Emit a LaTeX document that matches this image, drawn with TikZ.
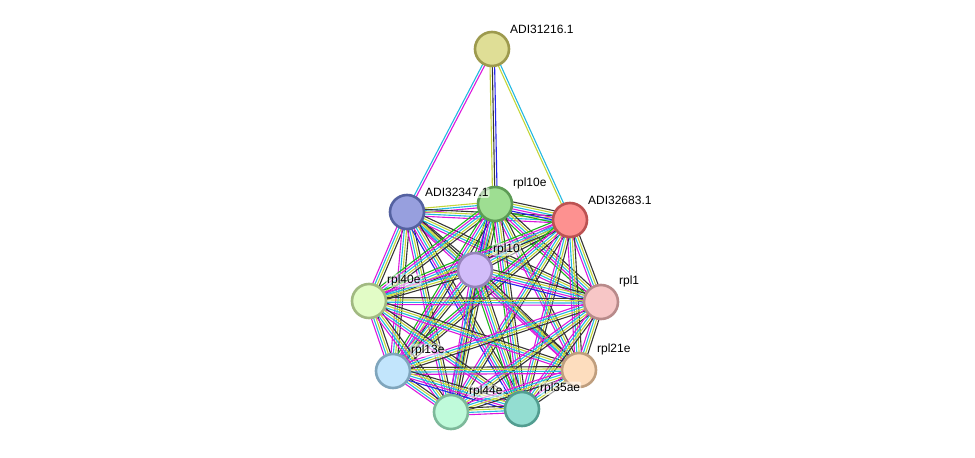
\documentclass[tikz,border=0pt]{standalone}
\usepackage{fontspec}
\setmainfont{Liberation Sans}
\usetikzlibrary{calc,backgrounds}

% evidence channels
\definecolor{nbh}{RGB}{30,180,30}
\definecolor{cooc}{RGB}{35,35,235}
\definecolor{exp}{RGB}{220,25,220}
\definecolor{db}{RGB}{35,185,225}
\definecolor{txt}{RGB}{196,214,58}
\definecolor{coex}{RGB}{55,55,55}

% one line per channel, side by side
\newcommand\link[3]{%
  \foreach \c [count=\k] in {#3} {\global\let\nl\k}%
  \foreach \c [count=\k] in {#3} {%
    \pgfmathsetmacro\off{(\k-(\nl+1)/2)*2.3}%
    \draw[\c,line width=1.1pt] ($(#1)!\off pt!90:(#2)$) -- ($(#2)!\off pt!-90:(#1)$);
  }%
}

\begin{document}
\begin{tikzpicture}[x=1pt,y=-1pt,prot/.style={shape=circle,minimum size=34,inner sep=0,line width=2.6pt},lbl/.style={font=\fontsize{12}{14}\selectfont,inner sep=1pt,xshift=4,yshift=1,fill=white,fill opacity=0.55,text opacity=1,rounded corners=2pt}]
\useasboundingbox (0,0) rectangle (975,458);

\node[prot,fill={rgb,255:red,223;green,222;blue,150},draw={rgb,255:red,157;green,154;blue,78},label={[lbl]above right:ADI31216.1}] (a1216) at (492,49) {};
\node[prot,fill={rgb,255:red,158;green,222;blue,146},draw={rgb,255:red,93;green,155;blue,85},label={[lbl]above right:rpl10e}] (rpl10e) at (495,204) {};
% after rpl10e, so its label lies on top
\node[prot,fill={rgb,255:red,151;green,159;blue,222},draw={rgb,255:red,84;green,97;blue,160},label={[lbl]above right:ADI32347.1}] (a2347) at (407,212) {};
\node[prot,fill={rgb,255:red,253;green,145;blue,144},draw={rgb,255:red,188;green,82;blue,82},label={[lbl]above right:ADI32683.1}] (a2683) at (570,220) {};
\node[prot,fill={rgb,255:red,209;green,188;blue,249},draw={rgb,255:red,150;green,131;blue,186},label={[lbl]above right:rpl10}] (rpl10) at (475,270) {};
\node[prot,fill={rgb,255:red,226;green,252;blue,198},draw={rgb,255:red,161;green,185;blue,129},label={[lbl]above right:rpl40e}] (rpl40e) at (369,301) {};
\node[prot,fill={rgb,255:red,247;green,198;blue,198},draw={rgb,255:red,184;green,138;blue,138},label={[lbl]above right:rpl1}] (rpl1) at (601,302) {};
\node[prot,fill={rgb,255:red,194;green,229;blue,252},draw={rgb,255:red,127;green,165;blue,188},label={[lbl]above right:rpl13e}] (rpl13e) at (393,371) {};
\node[prot,fill={rgb,255:red,253;green,221;blue,190},draw={rgb,255:red,191;green,158;blue,126},label={[lbl]above right:rpl21e}] (rpl21e) at (579,370) {};
\node[prot,fill={rgb,255:red,191;green,250;blue,218},draw={rgb,255:red,125;green,185;blue,154},label={[lbl]above right:rpl44e}] (rpl44e) at (451,412) {};
\node[prot,fill={rgb,255:red,147;green,221;blue,209},draw={rgb,255:red,82;green,157;blue,144},label={[lbl]above right:rpl35ae}] (rpl35ae) at (522,409) {};

\begin{pgfonlayer}{background}
% top protein
\link{a1216}{a2347}{db,exp}
\link{a1216}{rpl10e}{txt,coex,cooc}
\link{a1216}{a2683}{txt,db}
% ribosomal cluster
\link{a2347}{rpl10e}{exp,db,txt}
\link{a2347}{a2683}{exp,db,txt,coex}
\link{a2347}{rpl10}{exp,db,txt,coex}
\link{a2347}{rpl40e}{exp,db,txt,coex}
\link{a2347}{rpl1}{exp,db,txt,coex}
\link{a2347}{rpl13e}{exp,db,txt,coex}
\link{a2347}{rpl21e}{exp,db,txt,coex}
\link{a2347}{rpl44e}{exp,db,txt,coex}
\link{a2347}{rpl35ae}{cooc,exp,db,txt,coex}
\link{rpl10e}{a2683}{nbh,cooc,exp,db,txt,coex}
\link{rpl10e}{rpl10}{nbh,exp,db,txt,coex}
\link{rpl10e}{rpl40e}{nbh,exp,db,txt,coex}
\link{rpl10e}{rpl1}{nbh,exp,db,txt,coex}
\link{rpl10e}{rpl13e}{nbh,exp,db,txt,coex}
\link{rpl10e}{rpl21e}{exp,db,txt,coex}
\link{rpl10e}{rpl44e}{cooc,exp,db,txt,coex}
\link{rpl10e}{rpl35ae}{nbh,exp,db,txt,coex}
\link{a2683}{rpl10}{exp,db,txt,coex}
\link{a2683}{rpl40e}{nbh,exp,db,txt,coex}
\link{a2683}{rpl1}{exp,db,txt,coex}
\link{a2683}{rpl13e}{nbh,exp,db,txt,coex}
\link{a2683}{rpl21e}{exp,db,txt,coex}
\link{a2683}{rpl44e}{exp,db,txt,coex}
\link{a2683}{rpl35ae}{exp,db,txt,coex}
\link{rpl10}{rpl40e}{exp,db,txt,coex}
\link{rpl10}{rpl1}{cooc,exp,db,txt,coex}
\link{rpl10}{rpl13e}{exp,db,txt,coex}
\link{rpl10}{rpl21e}{exp,db,txt,coex}
\link{rpl10}{rpl44e}{exp,db,txt,coex}
\link{rpl10}{rpl35ae}{nbh,exp,db,txt,coex}
\link{rpl40e}{rpl1}{exp,db,txt,coex}
\link{rpl40e}{rpl13e}{exp,db,txt,coex}
\link{rpl40e}{rpl21e}{exp,db,txt,coex}
\link{rpl40e}{rpl44e}{exp,db,txt,coex}
\link{rpl40e}{rpl35ae}{exp,db,txt,coex}
\link{rpl1}{rpl13e}{exp,db,txt,coex}
\link{rpl1}{rpl21e}{exp,db,txt,coex}
\link{rpl1}{rpl44e}{exp,db,txt,coex}
\link{rpl1}{rpl35ae}{exp,db,txt,coex}
\link{rpl13e}{rpl21e}{exp,db,txt,coex}
\link{rpl13e}{rpl44e}{exp,db,txt,coex}
\link{rpl13e}{rpl35ae}{cooc,exp,db,txt,coex}
\link{rpl21e}{rpl44e}{exp,db,txt,coex}
\link{rpl21e}{rpl35ae}{exp,db,txt,coex}
\link{rpl44e}{rpl35ae}{exp,db,txt,coex}
\end{pgfonlayer}
\end{tikzpicture}
\end{document}
